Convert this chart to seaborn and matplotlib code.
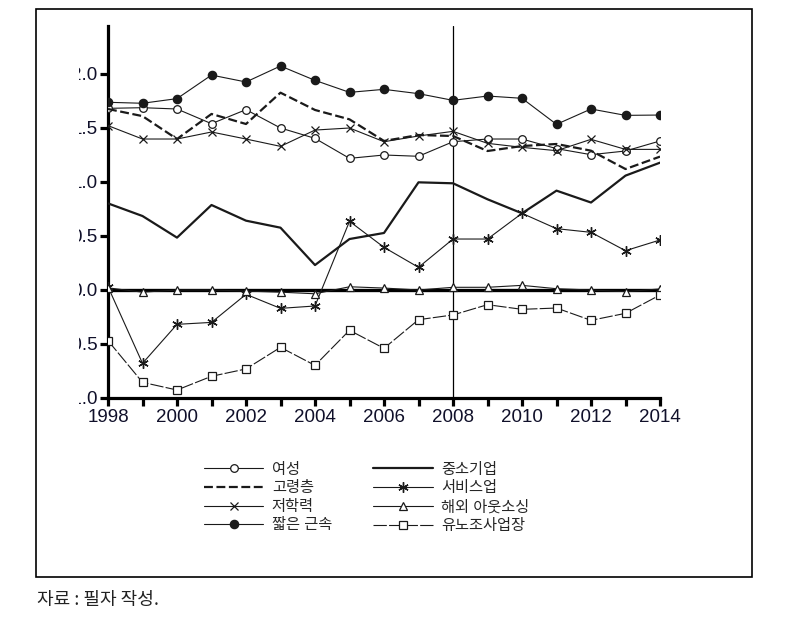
import matplotlib
matplotlib.use("Agg")
import matplotlib.pyplot as plt
import seaborn as sns
import numpy as np
from matplotlib.patches import Rectangle
from matplotlib.transforms import Bbox, TransformedBbox

years = list(range(1998, 2015))

women = [1.682, 1.688, 1.676, 1.540, 1.670, 1.500, 1.404, 1.219, 1.250, 1.238,
         1.373, 1.398, 1.398, 1.309, 1.253, 1.287, 1.380]
elderly = [1.676, 1.610, 1.398, 1.630, 1.537, 1.827, 1.667, 1.580, 1.380, 1.435,
           1.426, 1.287, 1.333, 1.352, 1.290, 1.120, 1.235]
low_edu = [1.522, 1.398, 1.398, 1.463, 1.398, 1.330, 1.481, 1.500, 1.373, 1.426,
           1.469, 1.358, 1.321, 1.290, 1.395, 1.302, 1.302]
short_tenure = [1.738, 1.729, 1.772, 1.990, 1.926, 2.074, 1.941, 1.830, 1.858, 1.818,
                1.756, 1.796, 1.775, 1.534, 1.676, 1.617, 1.620]
sme = [0.802, 0.685, 0.485, 0.787, 0.642, 0.577, 0.231, 0.472, 0.528, 0.997,
       0.988, 0.840, 0.710, 0.920, 0.810, 1.059, 1.179]
service = [0.030, -0.679, -0.318, -0.300, -0.040, -0.170, -0.148, 0.636, 0.395, 0.210,
           0.472, 0.472, 0.710, 0.568, 0.534, 0.364, 0.463]
outsourcing = [0.020, -0.020, 0.000, 0.000, -0.010, -0.020, -0.035, 0.030, 0.018, 0.000,
               0.025, 0.025, 0.043, 0.012, 0.000, -0.015, 0.010]
union = [-0.469, -0.855, -0.926, -0.799, -0.731, -0.531, -0.698, -0.373, -0.540, -0.275,
         -0.231, -0.136, -0.179, -0.167, -0.281, -0.216, -0.046]

labels = ["여성", "고령층", "저학력", "짧은 근속", "중소기업", "서비스업", "해외 아웃소싱", "유노조사업장"]
yticks = [-1.0, -0.5, 0.0, 0.5, 1.0, 1.5, 2.0]
xtick_major = [1998, 2000, 2002, 2004, 2006, 2008, 2010, 2012, 2014]
caption = "자료 : 필자 작성."

sns.set_style("ticks")
plt.rcParams["font.family"] = ["Liberation Sans", "Noto Sans CJK KR", "DejaVu Sans"]

W, H = 785, 639
fig = plt.figure(figsize=(W / 100, H / 100), dpi=100)
ax = fig.add_axes([108 / W, 1 - 398 / H, (660 - 108) / W, (398 - 26) / H])

# outer frame
fig.patches.append(Rectangle((36 / W, 1 - 577 / H), (752 - 36) / W, (577 - 9) / H,
                             transform=fig.transFigure, fill=False, lw=1.2,
                             edgecolor="black", zorder=0))

lc = "#1a1a1a"
series = [women, elderly, low_edu, short_tenure, sme, service, outsourcing, union]
styles = [
    dict(lw=0.8, ls="-", marker="o", ms=5.5, mfc="white", mec=lc, mew=0.9),
    dict(lw=1.6, ls=(0, (4, 1.6)), marker=None),
    dict(lw=0.8, ls="-", marker="x", ms=5.5, mec=lc, mew=0.9),
    dict(lw=0.8, ls="-", marker="o", ms=6, mfc=lc, mec=lc, mew=0.9),
    dict(lw=1.6, ls="-", marker=None),
    dict(lw=0.8, ls="-", marker=(6, 2, 0), ms=7.5, mec=lc, mew=1.0),
    dict(lw=0.8, ls="-", marker="^", ms=5.5, mfc="white", mec=lc, mew=0.9),
    dict(lw=0.8, ls=(0, (12, 2)), marker="s", ms=5.5, mfc="white", mec=lc, mew=0.9),
]

ax.axhline(0, color="black", lw=2.4, zorder=1)
ax.axvline(2008, color="black", lw=0.9, zorder=1)

for vals, lab, st in zip(series, labels, styles):
    sns.lineplot(x=years, y=vals, ax=ax, color=lc, label=lab, zorder=3, **st)

ax.set_xlim(1998, 2014)
ax.set_ylim(-1.0, (290 - 26) / 108)
ax.set_xticks(years, minor=False)
ax.set_xticklabels([str(y) if y in xtick_major else "" for y in years])
ax.set_yticks(yticks)
ax.set_yticklabels([f"{v:.1f}" for v in yticks])

for s in ["top", "right"]:
    ax.spines[s].set_visible(False)
for s in ["left", "bottom"]:
    ax.spines[s].set_linewidth(2.3)
    ax.spines[s].set_color("black")
ax.spines["bottom"].set_zorder(4)

tick_col = "#10102a"
ax.tick_params(axis="both", direction="out", length=6, width=2.3, color="black",
               labelsize=13.5, labelcolor=tick_col)
ax.tick_params(axis="y", pad=1.5)
ax.tick_params(axis="x", pad=2)

clip = TransformedBbox(Bbox([[78.5 / W, 0], [1, 1]]), fig.transFigure)
for lbl in ax.get_yticklabels():
    lbl.set_clip_on(True)
    lbl.set_clip_box(clip)

ax.set_xlabel("")
ax.set_ylabel("")

handles, labs = ax.get_legend_handles_labels()
ax.legend(handles, labs, ncol=2, frameon=False, fontsize=11,
          loc="upper left", bbox_to_anchor=(190 / W, 1 - 449 / H),
          bbox_transform=fig.transFigure, handlelength=3.9, handletextpad=0.55,
          columnspacing=2.7, labelspacing=0.3, numpoints=1, borderpad=0.4)

fig.text(37 / W, 1 - 600 / H, caption, fontsize=13, ha="left", va="center",
         color="#222222", family=["Noto Sans CJK KR", "DejaVu Sans"])

fig.savefig("out.png", dpi=100)
